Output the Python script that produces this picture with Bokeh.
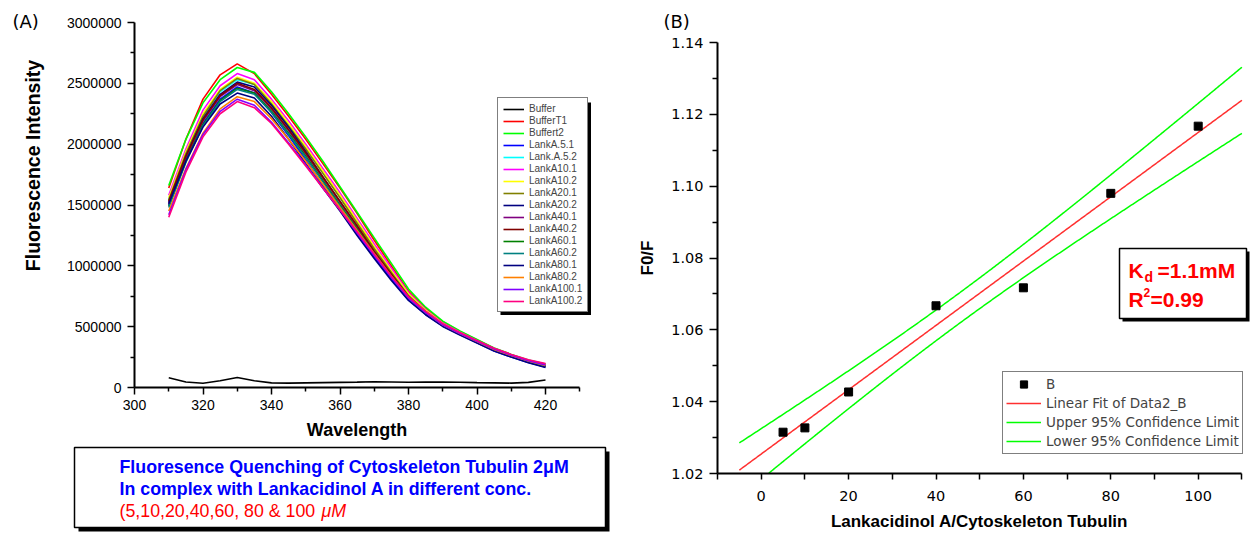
import numpy as np
from bokeh.plotting import figure
from bokeh.models import (Range1d, FixedTicker, NumeralTickFormatter, Legend, LegendItem, Label)
from bokeh.layouts import row
from bokeh.embed import file_html
from bokeh.resources import INLINE

# ---------------- data: panel A (fluorescence spectra) ----------------
wavelength_nm = [310, 315, 320, 325, 330, 335, 340, 345, 350, 355, 360, 365,
                 370, 375, 380, 385, 390, 395, 400, 405, 410, 415, 420]

buffer = [80000, 45000, 35000, 55000, 82000, 55000, 38000, 36000, 38000, 40000, 42000, 44000,
          47000, 45000, 43000, 44000, 45000, 43000, 40000, 38000, 36000, 42000, 62000]
buffer_t1 = [1640000, 2040000, 2370000, 2570000, 2660000, 2580000, 2410000, 2230000, 2040000, 1840000, 1640000, 1430000,
             1210000, 1000000, 790000, 650000, 540000, 460000, 390000, 320000, 270000, 220000, 190000]
buffert2 = [1660000, 2040000, 2340000, 2530000, 2630000, 2590000, 2430000, 2250000, 2060000, 1860000, 1650000, 1440000,
            1230000, 1020000, 810000, 660000, 545000, 465000, 395000, 325000, 272000, 225000, 192000]
lanka_5_1 = [1500000, 1870000, 2170000, 2370000, 2470000, 2420000, 2260000, 2070000, 1870000, 1660000, 1460000, 1260000,
             1070000, 890000, 720000, 600000, 505000, 435000, 368000, 300000, 250000, 205000, 168000]
lanka_5_2 = [1550000, 1930000, 2230000, 2430000, 2530000, 2490000, 2340000, 2160000, 1970000, 1770000, 1570000, 1360000,
             1150000, 950000, 760000, 630000, 520000, 445000, 378000, 312000, 262000, 215000, 180000]
lanka_10_1 = [1580000, 1960000, 2280000, 2480000, 2580000, 2530000, 2370000, 2190000, 2000000, 1800000, 1600000, 1390000,
              1180000, 980000, 780000, 640000, 530000, 455000, 385000, 318000, 268000, 222000, 188000]
lanka_10_2 = [1560000, 1940000, 2250000, 2450000, 2550000, 2500000, 2350000, 2170000, 1980000, 1780000, 1580000, 1370000,
              1160000, 960000, 770000, 635000, 525000, 450000, 380000, 315000, 265000, 220000, 185000]
lanka_20_1 = [1540000, 1920000, 2230000, 2440000, 2540000, 2490000, 2330000, 2150000, 1960000, 1760000, 1560000, 1350000,
              1140000, 945000, 755000, 625000, 518000, 443000, 376000, 310000, 260000, 213000, 178000]
lanka_20_2 = [1520000, 1900000, 2210000, 2410000, 2510000, 2470000, 2320000, 2140000, 1940000, 1730000, 1530000, 1320000,
              1110000, 920000, 740000, 615000, 512000, 440000, 373000, 308000, 258000, 210000, 175000]
lanka_40_1 = [1510000, 1880000, 2190000, 2390000, 2490000, 2440000, 2290000, 2110000, 1920000, 1720000, 1520000, 1320000,
              1115000, 925000, 742000, 618000, 514000, 441000, 374000, 309000, 259000, 211000, 176000]
lanka_40_2 = [1530000, 1900000, 2200000, 2400000, 2500000, 2450000, 2300000, 2120000, 1930000, 1730000, 1530000, 1330000,
              1120000, 930000, 745000, 620000, 515000, 442000, 375000, 310000, 260000, 212000, 176000]
lanka_60_1 = [1490000, 1860000, 2160000, 2360000, 2460000, 2420000, 2270000, 2090000, 1900000, 1700000, 1500000, 1300000,
              1100000, 915000, 738000, 615000, 512000, 440000, 374000, 309000, 259000, 212000, 178000]
lanka_60_2 = [1480000, 1850000, 2150000, 2350000, 2450000, 2410000, 2260000, 2080000, 1890000, 1690000, 1490000, 1290000,
              1095000, 912000, 735000, 612000, 510000, 438000, 372000, 308000, 258000, 212000, 177000]
lanka_80_1 = [1510000, 1860000, 2140000, 2330000, 2420000, 2380000, 2230000, 2040000, 1840000, 1640000, 1450000, 1250000,
              1060000, 880000, 715000, 598000, 502000, 432000, 366000, 300000, 250000, 203000, 165000]
lanka_80_2 = [1450000, 1800000, 2090000, 2290000, 2390000, 2350000, 2210000, 2040000, 1860000, 1670000, 1480000, 1290000,
              1100000, 915000, 740000, 618000, 515000, 443000, 377000, 313000, 263000, 217000, 182000]
lanka_100_1 = [1420000, 1790000, 2080000, 2270000, 2370000, 2320000, 2180000, 2010000, 1830000, 1640000, 1460000, 1270000,
               1085000, 905000, 735000, 615000, 515000, 444000, 379000, 316000, 266000, 220000, 186000]
lanka_100_2 = [1400000, 1770000, 2060000, 2250000, 2350000, 2300000, 2170000, 2000000, 1820000, 1640000, 1460000, 1280000,
               1095000, 915000, 745000, 625000, 525000, 452000, 386000, 322000, 272000, 228000, 196000]

series_labels = ["Buffer", "BufferT1", "Buffert2", "LankA.5.1", "Lank.A.5.2", "LankA10.1", "LankA10.2",
                 "LankA20.1", "LankA20.2", "LankA40.1", "LankA40.2", "LankA60.1", "LankA60.2",
                 "LankA80.1", "LankA80.2", "LankA100.1", "LankA100.2"]
series_values = [buffer, buffer_t1, buffert2, lanka_5_1, lanka_5_2, lanka_10_1, lanka_10_2,
                 lanka_20_1, lanka_20_2, lanka_40_1, lanka_40_2, lanka_60_1, lanka_60_2,
                 lanka_80_1, lanka_80_2, lanka_100_1, lanka_100_2]
series_colors = ["#000000", "#FF0000", "#00FF00", "#0000FF", "#00FFFF", "#FF00FF", "#FFFF00",
                 "#808000", "#000080", "#800080", "#800000", "#008000", "#008080",
                 "#000080", "#FF8000", "#8000FF", "#FF0080"]

a_x_ticks = [300, 320, 340, 360, 380, 400, 420]
a_x_minor = [310, 330, 350, 370, 390, 410, 430]
a_y_ticks = [0, 500000, 1000000, 1500000, 2000000, 2500000, 3000000]
a_y_minor = [250000, 750000, 1250000, 1750000, 2250000, 2750000]

# ---------------- data: panel B (F0/F vs ratio) ----------------
conc_ratio = [5, 10, 20, 40, 60, 80, 100]
f0_over_f = [1.0315, 1.0327, 1.0427, 1.0667, 1.0717, 1.0980, 1.1167]
fit_x_span = [-5, 110]
t_crit_95_df5 = 2.5706

b_x_ticks = [0, 20, 40, 60, 80, 100]
b_x_minor = [-10, 10, 30, 50, 70, 90, 110]
b_y_ticks = [1.02, 1.04, 1.06, 1.08, 1.10, 1.12, 1.14]
b_y_minor = [1.03, 1.05, 1.07, 1.09, 1.11, 1.13]

SANS = "Liberation Sans"
DJ = "DejaVu Sans"

# ---------------- helpers: pixel placement -> data coords ----------------
A_W, B_W, H = 620, 634, 535
A_AX_LEFT, A_AX_BOTTOM, A_AX_TOP = 134.0, 387.0, 22.0
a_xppu = (545.0 - 134.0) / 120.0
a_yppu = (A_AX_BOTTOM - A_AX_TOP) / 3000000.0

def ax_px(px):
    return 300.0 + (px - A_AX_LEFT) / a_xppu

def ay_px(py):
    return (A_AX_BOTTOM - py) / a_yppu

B_OFF = 620.0
B_AX_LEFT, B_AX_BOTTOM, B_AX_TOP = 717.0, 473.0, 42.0
b_xppu = (1197.0 - 760.0) / 100.0
b_yppu = (B_AX_BOTTOM - B_AX_TOP) / 0.12

def bx_px(px):
    return -10.0 + (px - B_AX_LEFT) / b_xppu

def by_px(py):
    return 1.02 + (B_AX_BOTTOM - py) / b_yppu


def style_axis(ax, font, size, tick_out, minor_out, standoff, label_size="17px"):
    ax.axis_line_width = 2
    ax.axis_line_color = "black"
    ax.major_tick_line_width = 1.5
    ax.minor_tick_line_width = 1.5
    ax.major_tick_in = 0
    ax.minor_tick_in = 0
    ax.major_tick_out = tick_out
    ax.minor_tick_out = minor_out
    ax.major_label_text_font = font
    ax.major_label_text_font_size = size
    ax.major_label_text_color = "black"
    ax.major_label_standoff = standoff
    ax.axis_label_text_font = SANS
    ax.axis_label_text_font_style = "bold"
    ax.axis_label_text_font_size = label_size
    ax.axis_label_text_color = "black"


def bare_figure(w, xr, yr):
    f = figure(width=w, height=H, x_range=Range1d(*xr), y_range=Range1d(*yr),
               min_border_left=0, min_border_right=0, min_border_top=0, min_border_bottom=0,
               toolbar_location=None, output_backend="svg")
    f.outline_line_color = None
    f.grid.visible = False
    return f

# ================= Panel A =================
p1 = bare_figure(A_W, (ax_px(0), ax_px(A_W)), (ay_px(H), ay_px(0)))

# caption box (shadow + box) under the spectra, and legend shadow
p1.quad(left=[ax_px(78)], right=[ax_px(609)], top=[ay_px(451)], bottom=[ay_px(531)],
        fill_color="#000000", line_color=None)
p1.quad(left=[ax_px(74)], right=[ax_px(605)], top=[ay_px(447)], bottom=[ay_px(527)],
        fill_color="#FFFFFF", line_color="#000000", line_width=1.5)
p1.quad(left=[ax_px(500)], right=[ax_px(590.5)], top=[ay_px(102)], bottom=[ay_px(314.5)],
        fill_color="#000000", line_color=None)

for lab, vals, col in zip(series_labels, series_values, series_colors):
    p1.line(wavelength_nm, vals, color=col, line_width=1.6, legend_label=lab)

xa = p1.xaxis[0]
xa.fixed_location = 0
xa.ticker = FixedTicker(ticks=a_x_ticks, minor_ticks=a_x_minor)
xa.bounds = (300, 430)
style_axis(xa, SANS, "14px", 7, 4, 5, "18px")
xa.axis_label = "Wavelength"
xa.axis_label_standoff = 7

ya = p1.yaxis[0]
ya.fixed_location = 300
ya.ticker = FixedTicker(ticks=a_y_ticks, minor_ticks=a_y_minor)
ya.bounds = (0, 3000000)
ya.formatter = NumeralTickFormatter(format="0")
style_axis(ya, SANS, "14px", 7, 4, 6)

p1.add_layout(Label(x=ax_px(32), y=ay_px(165), text="Fluorescence Intensity", angle=np.pi / 2,
                    text_align="center", text_baseline="middle", text_font=SANS,
                    text_font_style="bold", text_font_size="19.5px", text_color="black"))
p1.add_layout(Label(x=ax_px(12), y=ay_px(21), text="(A)", text_align="left",
                    text_baseline="middle", text_font=DJ, text_font_size="18px", text_color="black"))

legA = p1.legend[0]
legA.location = (497, H - 312)
legA.label_text_font = SANS
legA.label_text_font_size = "10px"
legA.label_height = 10
legA.glyph_height = 10
legA.glyph_width = 21
legA.spacing = 1
legA.padding = 5
legA.margin = 0
legA.label_standoff = 5
legA.border_line_color = "black"
legA.border_line_width = 1.5
legA.background_fill_color = "white"
legA.background_fill_alpha = 1

cap = dict(text_font=SANS, text_font_size="17.8px", text_baseline="middle", text_align="left")
p1.add_layout(Label(x=ax_px(119), y=ay_px(466), text="Fluoresence Quenching of Cytoskeleton Tubulin 2\u03bcM",
                    text_font_style="bold", text_color="#0000FF", **cap))
p1.add_layout(Label(x=ax_px(119), y=ay_px(488), text="In complex with Lankacidinol A in different conc.",
                    text_font_style="bold", text_color="#0000FF", **cap))
p1.add_layout(Label(x=ax_px(119), y=ay_px(510), text="(5,10,20,40,60, 80 & 100",
                    text_color="#FF0000", **cap))
p1.add_layout(Label(x=ax_px(321), y=ay_px(510), text="\u03bcM",
                    text_font_style="italic", text_color="#FF0000", **cap))

# ================= Panel B =================
p2 = bare_figure(B_W, (bx_px(B_OFF), bx_px(B_OFF + B_W)), (by_px(H), by_px(0)))

cx = np.array(conc_ratio, dtype=float)
cy = np.array(f0_over_f, dtype=float)
n = len(cx)
slope, intercept = np.polyfit(cx, cy, 1)
resid = cy - (slope * cx + intercept)
s_err = np.sqrt(np.sum(resid ** 2) / (n - 2))
sxx = np.sum((cx - cx.mean()) ** 2)
fx = np.linspace(fit_x_span[0], fit_x_span[1], 461)
fy = slope * fx + intercept
half = t_crit_95_df5 * s_err * np.sqrt(1.0 / n + (fx - cx.mean()) ** 2 / sxx)

def above_axis(x, y):
    keep = y >= b_y_ticks[0]
    return x[keep], y[keep]

# Kd / R^2 box (shadow + box)
p2.quad(left=[bx_px(1122)], right=[bx_px(1249)], top=[by_px(251)], bottom=[by_px(321)],
        fill_color="#000000", line_color=None)
p2.quad(left=[bx_px(1119)], right=[bx_px(1246)], top=[by_px(248)], bottom=[by_px(318)],
        fill_color="#FFFFFF", line_color="#000000", line_width=1.5)

r_fit = p2.line(*above_axis(fx, fy), color="#FF3030", line_width=1.5)
r_up = p2.line(*above_axis(fx, fy + half), color="#00FF00", line_width=1.5)
r_lo = p2.line(*above_axis(fx, fy - half), color="#00FF00", line_width=1.5)
r_pts = p2.scatter(conc_ratio, f0_over_f, marker="square", size=8, color="black")

xb = p2.xaxis[0]
xb.fixed_location = 1.02
xb.ticker = FixedTicker(ticks=b_x_ticks, minor_ticks=b_x_minor)
xb.bounds = (-10, 110)
style_axis(xb, DJ, "14.5px", 6, 6, 11)
xb.axis_label = "Lankacidinol A/Cytoskeleton Tubulin"
xb.axis_label_standoff = 8

yb = p2.yaxis[0]
yb.fixed_location = -10
yb.ticker = FixedTicker(ticks=b_y_ticks, minor_ticks=b_y_minor)
yb.bounds = (1.02, 1.14)
yb.formatter = NumeralTickFormatter(format="0.00")
style_axis(yb, DJ, "14.5px", 8, 5, 6)
yb.axis_label = "F0/F"
yb.axis_label_standoff = 11

legB = Legend(items=[LegendItem(label="B", renderers=[r_pts]),
                     LegendItem(label="Linear Fit of Data2_B", renderers=[r_fit]),
                     LegendItem(label="Upper 95% Confidence Limit", renderers=[r_up]),
                     LegendItem(label="Lower 95% Confidence Limit", renderers=[r_lo])],
              location=(1002 - B_OFF, H - 454))
legB.label_text_font = DJ
legB.label_text_font_size = "13.5px"
legB.label_height = 18
legB.glyph_height = 18
legB.glyph_width = 35
legB.spacing = 1
legB.padding = 3
legB.margin = 0
legB.label_standoff = 5
legB.border_line_color = "black"
legB.border_line_width = 1.5
legB.background_fill_color = "white"
legB.background_fill_alpha = 1
p2.add_layout(legB)

kd_style = dict(text_font=SANS, text_font_style="bold", text_color="#FF0000", text_baseline="middle",
                text_align="left")
p2.add_layout(Label(x=bx_px(1128), y=by_px(270), text="K", text_font_size="21px", **kd_style))
p2.add_layout(Label(x=bx_px(1144), y=by_px(276), text="d", text_font_size="14px", **kd_style))
p2.add_layout(Label(x=bx_px(1157), y=by_px(270), text="=1.1mM", text_font_size="21px", **kd_style))
p2.add_layout(Label(x=bx_px(1128), y=by_px(299), text="R", text_font_size="21px", **kd_style))
p2.add_layout(Label(x=bx_px(1143), y=by_px(292), text="2", text_font_size="12px", **kd_style))
p2.add_layout(Label(x=bx_px(1150), y=by_px(299), text="=0.99", text_font_size="21px", **kd_style))

p2.add_layout(Label(x=bx_px(663), y=by_px(21), text="(B)", text_align="left", text_baseline="middle",
                    text_font=DJ, text_font_size="18px", text_color="black"))

layout = row(p1, p2)
open("out.html", "w").write(file_html(layout, INLINE))
